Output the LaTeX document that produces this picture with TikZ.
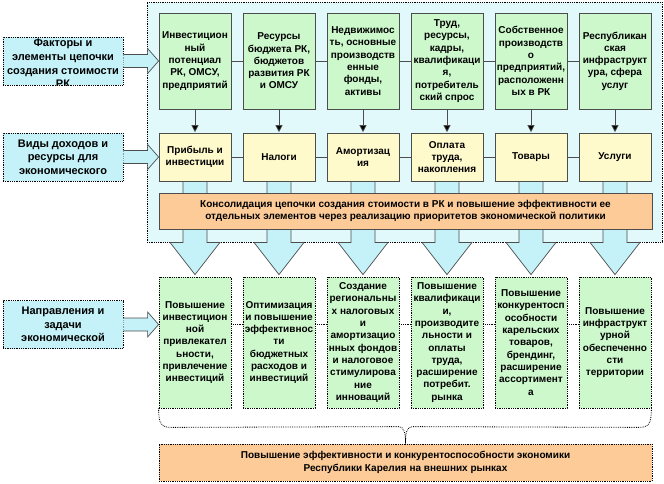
\documentclass[tikz,border=0pt]{standalone}
\usepackage{fontspec}
\setmainfont{Liberation Sans}
\usetikzlibrary{arrows.meta,calc}
\definecolor{gfill}{HTML}{CCF8CC}
\definecolor{yfill}{HTML}{FFFACC}
\definecolor{ofill}{HTML}{FCCB98}
\definecolor{cfill}{HTML}{C4F2F8}
\definecolor{contfill}{HTML}{E2F9FB}
\definecolor{bordergray}{HTML}{4D4D4D}
\pgfdeclarelayer{back}
\pgfdeclarelayer{mid}
\pgfsetlayers{back,mid,main}
\begin{document}
\begin{tikzpicture}[x=1pt,y=-1pt,
  box/.style={draw=bordergray, line width=0.8pt, inner sep=0pt, align=center,
    font=\bfseries\fontsize{10}{12.3}\selectfont},
  gbox/.style={box, fill=gfill, minimum width=72pt, minimum height=96pt},
  ybox/.style={box, fill=yfill, minimum width=72pt, minimum height=48pt},
  bbox/.style={box, fill=gfill, draw=black, densely dotted, minimum width=72pt, minimum height=131pt},
  lbox/.style={box, fill=cfill, draw=black, densely dotted, minimum width=120pt, minimum height=48pt,
    font=\bfseries\fontsize{11}{13.3}\selectfont},
  obox/.style={box, fill=ofill, minimum width=493pt, minimum height=36pt},
  conn/.style={draw=bordergray, line width=0.8pt},
  varrow/.style={conn, -{Triangle[length=7pt,width=7pt,fill=black]}, shorten >=0.4pt},
  barrow/.style={draw=bordergray, line width=0.7pt, fill=cfill},
  brace/.style={draw=black, densely dotted, line width=0.8pt}
]
\useasboundingbox (0,0) rectangle (664,484);

\begin{pgfonlayer}{back}
\node[draw=black, densely dotted, line width=0.8pt, fill=contfill, minimum width=515pt,
  minimum height=240pt, inner sep=0pt] (cont) at (404.5,122) {};
\end{pgfonlayer}

% left boxes
\node[lbox] (l1) at (63,61) {};
\begin{scope}
  \clip (l1.south west) rectangle (l1.north east);
  \node[font=\bfseries\fontsize{11}{13.8}\selectfont, align=center, inner sep=0pt, anchor=north] (l1t) at ($(l1.north)+(0,2)$) {Факторы и\\элементы цепочки\\создания стоимости\\РК};
\end{scope}
\node[lbox] (l2) at (63,157) {Виды доходов и\\ресурсы для\\экономического};
\node[lbox] (l3) at (63,324.5) {Направления и\\задачи\\экономической};

% row 1
\node[gbox] (t1) at (195,61) {Инвестицион\\ный\\потенциал\\РК, ОМСУ,\\предприятий};
\node[gbox] (t2) at (279,61) {Ресурсы\\бюджета РК,\\бюджетов\\развития РК\\и ОМСУ};
\node[gbox] (t3) at (363,61) {Недвижимос\\ть, основные\\производств\\енные\\фонды,\\активы};
\node[gbox] (t4) at (447,61) {Труд,\\ресурсы,\\кадры,\\квалификаци\\я,\\потребитель\\ский спрос};
\node[gbox] (t5) at (531,61) {Собственное\\производств\\о\\предприятий,\\расположенн\\ых в РК};
\node[gbox] (t6) at (615,61) {Республикан\\ская\\инфраструкт\\ура, сфера\\услуг};

% row 2
\node[ybox] (y1) at (195,157) {Прибыль и\\инвестиции};
\node[ybox] (y2) at (279,157) {Налоги};
\node[ybox] (y3) at (363,157) {Амортизац\\ия};
\node[ybox] (y4) at (447,157) {Оплата\\труда,\\накопления};
\node[ybox] (y5) at (531,157) {Товары};
\node[ybox] (y6) at (615,157) {Услуги};

% consolidation
\node[obox] (cons) at (405.5,211) {Консолидация цепочки создания стоимости в РК и повышение эффективности ее\\отдельных элементов через реализацию приоритетов экономической политики};

% bottom row
\node[bbox] (b1) at (195,342.5) {Повышение\\инвестицион\\ной\\привлекател\\ьности,\\привлечение\\инвестиций};
\node[bbox] (b2) at (279,342.5) {Оптимизация\\и повышение\\эффективнос\\ти\\бюджетных\\расходов и\\инвестиций};
\node[bbox] (b3) at (363,342.5) {Создание\\региональны\\х налоговых\\и\\амортизацио\\нных фондов\\и налоговое\\стимулирова\\ние\\инноваций};
\node[bbox] (b4) at (447,342.5) {Повышение\\квалификаци\\и,\\производите\\льности и\\оплаты\\труда,\\расширение\\потребит.\\рынка};
\node[bbox] (b5) at (531,342.5) {Повышение\\конкурентосп\\особности\\карельских\\товаров,\\брендинг,\\расширение\\ассортимент\\а};
\node[bbox] (b6) at (615,342.5) {Повышение\\инфраструкт\\урной\\обеспеченно\\сти\\территории};

% final
\node[obox, draw=black, densely dotted, minimum height=37pt] (fin) at (405.5,462.5) {Повышение эффективности и конкурентоспособности экономики\\Республики Карелия на внешних рынках};

% row connectors
\foreach \a/\b in {1/2,2/3,3/4,4/5,5/6}{
  \draw[conn] (t\a.east) -- (t\b.west);
  \draw[conn] (y\a.east) -- (y\b.west);
  \draw[brace] (b\a.east|-l3.east) -- (b\b.west|-l3.east);
}
\foreach \i in {1,...,6}{
  \draw[varrow] (t\i.south) -- (y\i.north);
}

% block arrows down
\begin{pgfonlayer}{mid}
\foreach \i in {1,...,6}{
  \draw[barrow] ($(y\i.south)+(-12,0)$) -- ($(y\i.south|-cont.south)+(-12,0)$)
    -- ($(y\i.south|-cont.south)+(-25,0)$) -- ($(b\i.north)+(0,-2)$)
    -- ($(y\i.south|-cont.south)+(25,0)$) -- ($(y\i.south|-cont.south)+(12,0)$)
    -- ($(y\i.south)+(12,0)$);
}
\end{pgfonlayer}

% side block arrows
\draw[barrow] ($(l1.east)+(0,-6.5)$) -- ($(t1.west|-l1.east)+(-11,-6.5)$) -- ($(t1.west|-l1.east)+(-11,-12.5)$)
  -- (t1.west|-l1.east) -- ($(t1.west|-l1.east)+(-11,12.5)$) -- ($(t1.west|-l1.east)+(-11,6.5)$)
  -- ($(l1.east)+(0,6.5)$);
\draw[barrow] ($(l2.east)+(0,-6.5)$) -- ($(y1.west|-l2.east)+(-11,-6.5)$) -- ($(y1.west|-l2.east)+(-11,-12.5)$)
  -- (y1.west|-l2.east) -- ($(y1.west|-l2.east)+(-11,12.5)$) -- ($(y1.west|-l2.east)+(-11,6.5)$)
  -- ($(l2.east)+(0,6.5)$);
\draw[barrow] ($(l3.east)+(0,-6.5)$) -- ($(b1.west|-l3.east)+(-11,-6.5)$) -- ($(b1.west|-l3.east)+(-11,-12.5)$)
  -- (b1.west|-l3.east) -- ($(b1.west|-l3.east)+(-11,12.5)$) -- ($(b1.west|-l3.east)+(-11,6.5)$)
  -- ($(l3.east)+(0,6.5)$);

% brace
\draw[brace] (b1.south west) .. controls +(0,16) and +(-10,0) .. ++(13,19)
  -- ($(fin.north)+(-7,-17)$) .. controls +(6,0) and +(0,-10) .. (fin.north)
  .. controls +(0,-10) and +(-6,0) .. ($(fin.north)+(7,-17)$)
  -- ($(b6.south east)+(-13,19)$) .. controls +(10,0) and +(0,16) .. (b6.south east);
\end{tikzpicture}
\end{document}
